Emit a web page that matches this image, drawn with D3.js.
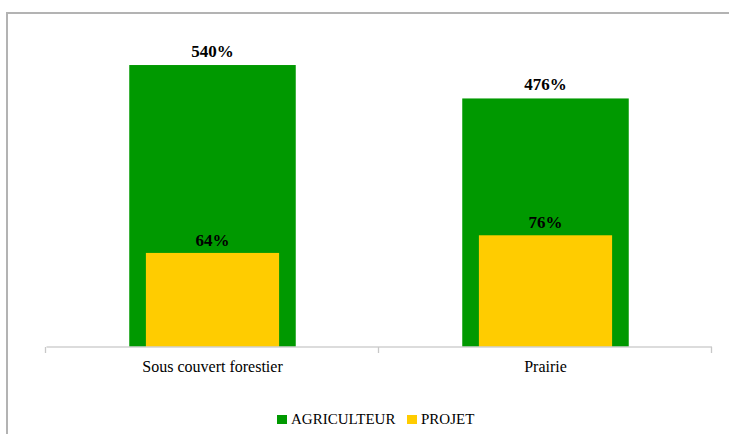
<!DOCTYPE html>
<html>
<head>
<meta charset="utf-8">
<script src="https://cdn.jsdelivr.net/npm/d3@7"></script>
<style>
  html, body { margin: 0; padding: 0; background: #fff; }
  svg { display: block; }
</style>
</head>
<body>
<script>
// Categories and the two series (percentages)
const categories = ["Sous couvert forestier", "Prairie"];
const agriculteur = [540, 476];
const projet = [64, 76];
const seriesNames = ["AGRICULTEUR", "PROJET"];
const seriesColors = ["#009900", "#FFCC00"];

const FONT = '"Liberation Serif", "Times New Roman", serif';
const W = 729, H = 434;
const svg = d3.select("body").append("svg").attr("width", W).attr("height", H);

// Chart frame
svg.append("rect")
  .attr("x", 7).attr("y", 13).attr("width", W + 10).attr("height", H + 10)
  .attr("fill", "#fff").attr("stroke", "#b3b3b3").attr("stroke-width", 2);

const baseY = 347;
const x = d3.scaleBand().domain(categories).range([46, 712]).paddingInner(0).paddingOuter(0);
// Primary axis for AGRICULTEUR, secondary axis for PROJET
const y1 = d3.scaleLinear().domain([0, 600]).range([baseY, baseY - 313.3]);
const y2 = d3.scaleLinear().domain([0, 100]).range([baseY, baseY - 147]);

const bw1 = x.bandwidth() * 0.5;
const bw2 = x.bandwidth() * 0.4;
const cx = c => x(c) + x.bandwidth() / 2;

// AGRICULTEUR bars (back)
svg.append("g").selectAll("rect").data(categories).join("rect")
  .attr("x", c => cx(c) - bw1 / 2)
  .attr("width", bw1)
  .attr("y", (c, i) => y1(agriculteur[i]))
  .attr("height", (c, i) => baseY - y1(agriculteur[i]))
  .attr("fill", seriesColors[0]);

// PROJET bars (front)
svg.append("g").selectAll("rect").data(categories).join("rect")
  .attr("x", c => cx(c) - bw2 / 2)
  .attr("width", bw2)
  .attr("y", (c, i) => y2(projet[i]))
  .attr("height", (c, i) => baseY - y2(projet[i]))
  .attr("fill", seriesColors[1]);

// Category axis
const axis = svg.append("g").attr("transform", `translate(0,${baseY})`)
  .call(d3.axisBottom(x).tickSize(0).tickPadding(13.6));
axis.attr("font-family", null).attr("font-size", null);
axis.select(".domain").attr("stroke", "#d0d0d0").attr("stroke-width", 1.3)
  .attr("d", `M46.5,0H712`);
axis.selectAll(".tick text")
  .style("font-family", FONT).style("font-size", "16px").attr("fill", "#000");
// Category boundary ticks
const bounds = [46, 379, 712];
svg.append("g").selectAll("line").data(bounds).join("line")
  .attr("x1", d => d - 0.5).attr("x2", d => d - 0.5)
  .attr("y1", baseY).attr("y2", baseY + 6)
  .attr("stroke", "#c8c8c8").attr("stroke-width", 1.3);

// Value labels
svg.append("g").selectAll("text").data(categories).join("text")
  .attr("x", cx)
  .attr("y", (c, i) => y1(agriculteur[i]) - 8)
  .attr("text-anchor", "middle")
  .style("font-family", FONT).style("font-weight", "bold").style("font-size", "17px")
  .text((c, i) => agriculteur[i] + "%");
svg.append("g").selectAll("text").data(categories).join("text")
  .attr("x", cx)
  .attr("y", (c, i) => y2(projet[i]) - 7)
  .attr("text-anchor", "middle")
  .style("font-family", FONT).style("font-weight", "bold").style("font-size", "17px")
  .text((c, i) => projet[i] + "%");

// Legend
const legendItems = [
  { name: seriesNames[0], color: seriesColors[0], x: 277 },
  { name: seriesNames[1], color: seriesColors[1], x: 407 }
];
const lg = svg.append("g");
legendItems.forEach(it => {
  lg.append("rect").attr("x", it.x).attr("y", 415).attr("width", 10).attr("height", 9).attr("fill", it.color);
  lg.append("text").attr("x", it.x + 14).attr("y", 424)
    .style("font-family", FONT).style("font-size", "15px").attr("fill", "#000")
    .text(it.name);
});
</script>
</body>
</html>
